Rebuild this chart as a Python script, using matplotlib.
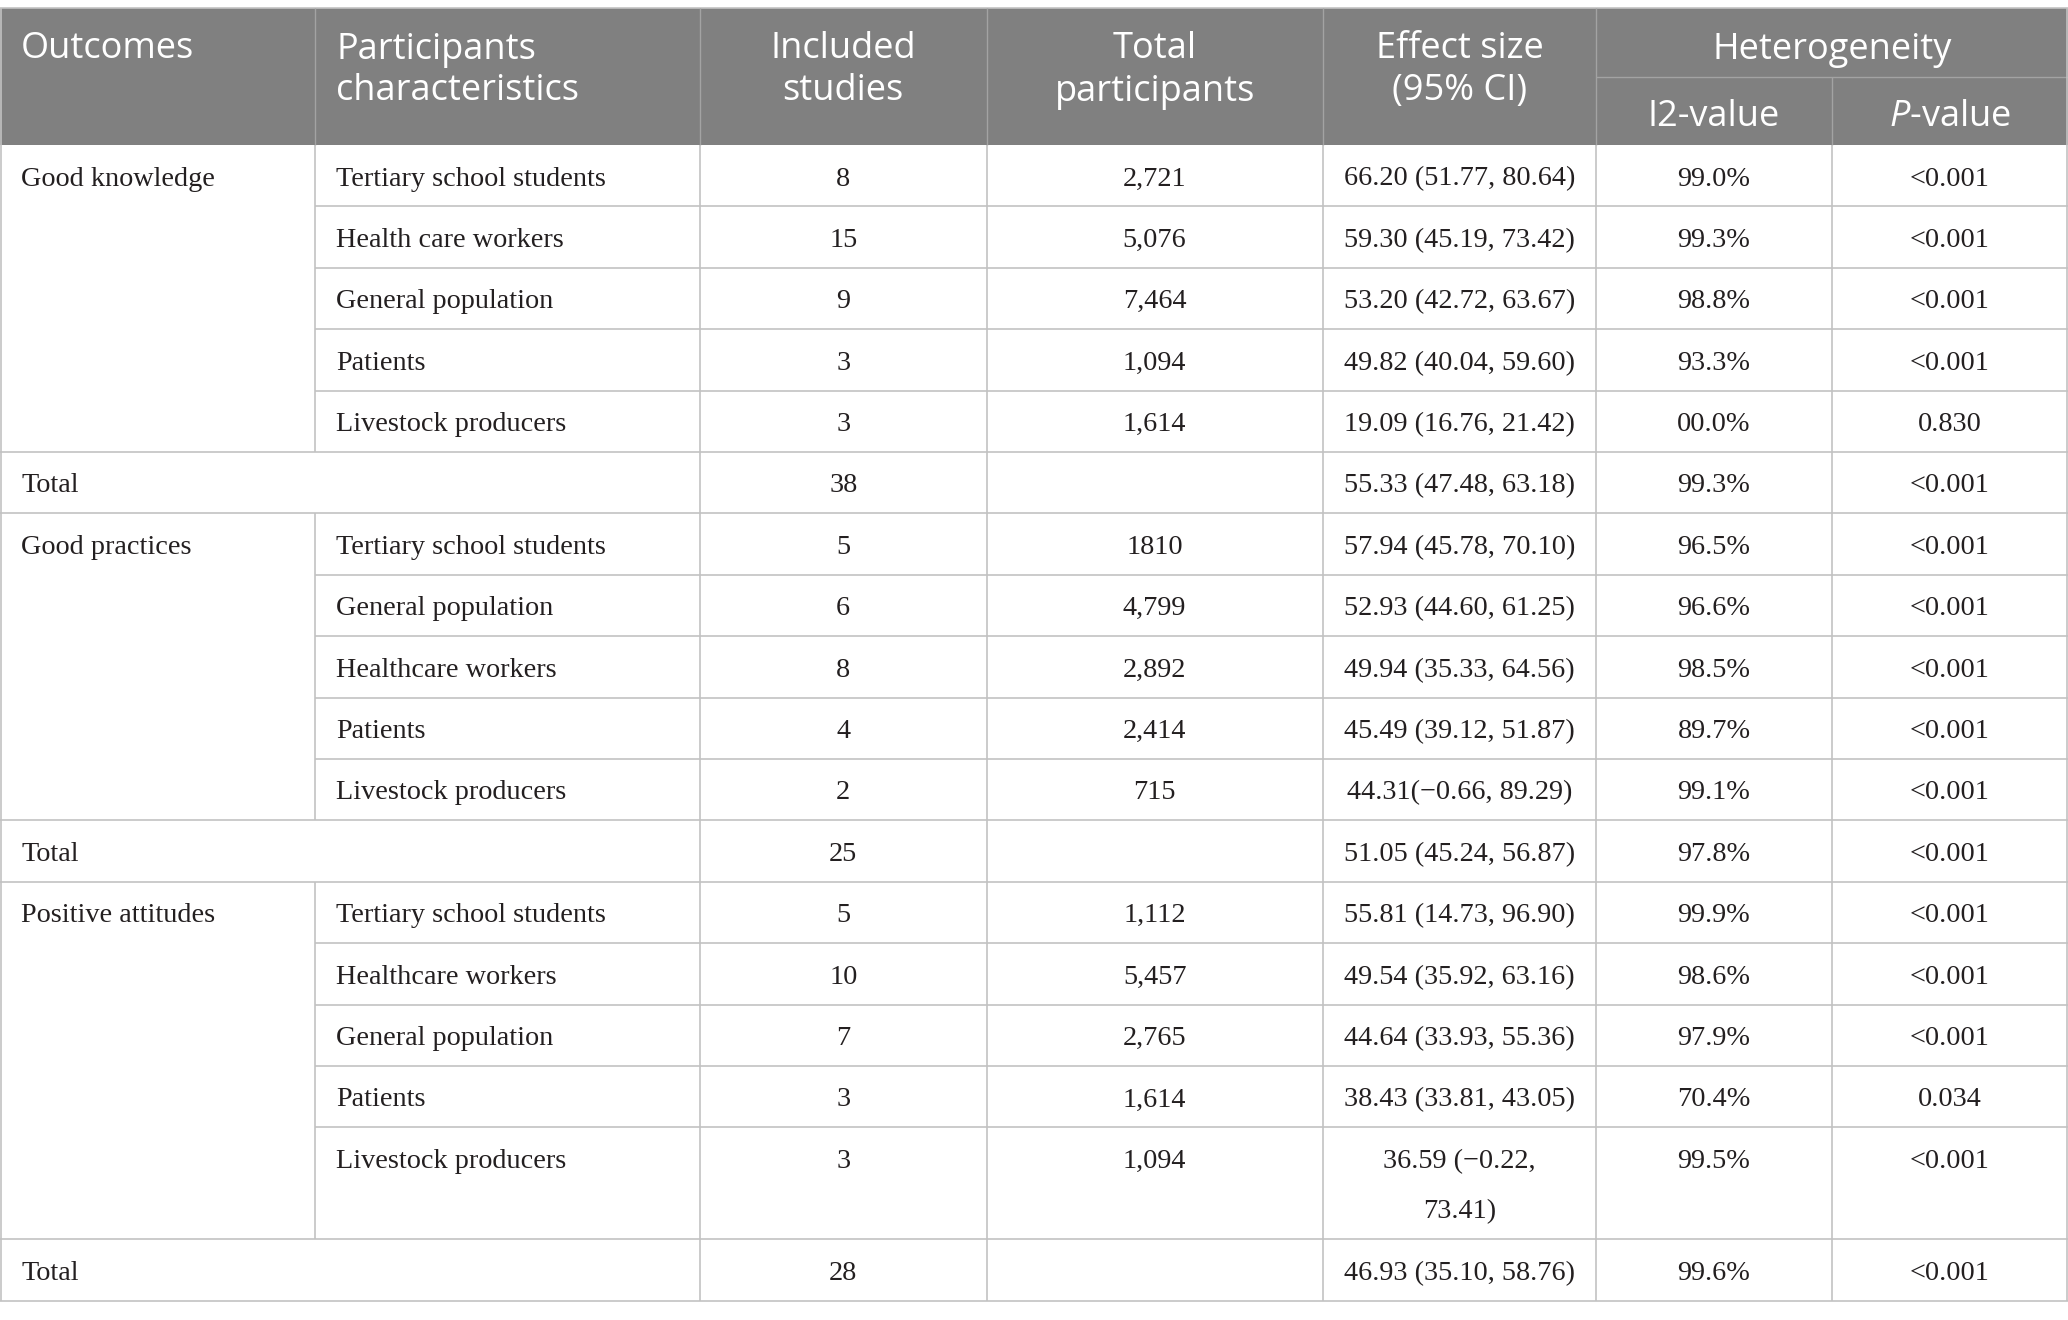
import matplotlib
matplotlib.use("Agg")
import matplotlib.pyplot as plt
from matplotlib.patches import Rectangle

plt.rcParams['mathtext.fontset'] = 'custom'
plt.rcParams['mathtext.rm'] = 'Open Sans'
plt.rcParams['mathtext.it'] = 'Open Sans:italic'

# ---- table content ----
outcomes = ["Good knowledge", "Good practices", "Positive attitudes"]

gk_groups = ["Tertiary school students", "Health care workers", "General population",
             "Patients", "Livestock producers"]
gk_studies = ["8", "15", "9", "3", "3"]
gk_participants = ["2,721", "5,076", "7,464", "1,094", "1,614"]
gk_effect = ["66.20 (51.77, 80.64)", "59.30 (45.19, 73.42)", "53.20 (42.72, 63.67)",
             "49.82 (40.04, 59.60)", "19.09 (16.76, 21.42)"]
gk_i2 = ["99.0%", "99.3%", "98.8%", "93.3%", "00.0%"]
gk_p = ["<0.001", "<0.001", "<0.001", "<0.001", "0.830"]
gk_total = ["38", "", "55.33 (47.48, 63.18)", "99.3%", "<0.001"]

gp_groups = ["Tertiary school students", "General population", "Healthcare workers",
             "Patients", "Livestock producers"]
gp_studies = ["5", "6", "8", "4", "2"]
gp_participants = ["1810", "4,799", "2,892", "2,414", "715"]
gp_effect = ["57.94 (45.78, 70.10)", "52.93 (44.60, 61.25)", "49.94 (35.33, 64.56)",
             "45.49 (39.12, 51.87)", "44.31(\u22120.66, 89.29)"]
gp_i2 = ["96.5%", "96.6%", "98.5%", "89.7%", "99.1%"]
gp_p = ["<0.001", "<0.001", "<0.001", "<0.001", "<0.001"]
gp_total = ["25", "", "51.05 (45.24, 56.87)", "97.8%", "<0.001"]

pa_groups = ["Tertiary school students", "Healthcare workers", "General population",
             "Patients", "Livestock producers"]
pa_studies = ["5", "10", "7", "3", "3"]
pa_participants = ["1,112", "5,457", "2,765", "1,614", "1,094"]
pa_effect = ["55.81 (14.73, 96.90)", "49.54 (35.92, 63.16)", "44.64 (33.93, 55.36)",
             "38.43 (33.81, 43.05)", "36.59 (\u22120.22,\n73.41)"]
pa_i2 = ["99.9%", "98.6%", "97.9%", "70.4%", "99.5%"]
pa_p = ["<0.001", "<0.001", "<0.001", "0.034", "<0.001"]
pa_total = ["28", "", "46.93 (35.10, 58.76)", "99.6%", "<0.001"]

blocks = [
    (gk_groups, gk_studies, gk_participants, gk_effect, gk_i2, gk_p, gk_total),
    (gp_groups, gp_studies, gp_participants, gp_effect, gp_i2, gp_p, gp_total),
    (pa_groups, pa_studies, pa_participants, pa_effect, pa_i2, pa_p, pa_total),
]

# ---- layout (pixels) ----
W, H = 2068, 1320
col_x = [0, 315, 700, 986.5, 1322.8, 1596, 1832, 2068]
header_top, header_mid, header_bot = 8, 77, 145
row_h = 61.4
line_gap = 50.7
base_off = 40.5
pad = 21

header_bg = "#808080"
header_sep = "#a3a3a3"
grid = "#c2c2c2"
ink = "#231f20"
hfont = ['Open Sans', 'DejaVu Sans']
bfont = ['Liberation Serif', 'DejaVu Serif']
hsize = 26
bsize = 20.3

fig = plt.figure(figsize=(W / 100, H / 100), dpi=100)
ax = fig.add_axes([0, 0, 1, 1])
ax.set_xlim(0, W)
ax.set_ylim(H, 0)
ax.axis("off")

# header
ax.add_patch(Rectangle((0, header_top), W, header_bot - header_top, color=header_bg, lw=0))
ax.hlines(header_top, 0, W, color=grid, lw=1.2)
for x in col_x[1:6]:
    ax.vlines(x, header_top, header_bot, color=header_sep, lw=1.0)
ax.vlines(col_x[6], header_mid, header_bot, color=header_sep, lw=1.0)
ax.hlines(header_mid, col_x[5], W, color=header_sep, lw=1.0)

b1, b2, b3 = 58.5, 100.5, 126.5


def htext(x, y, s, ha="center"):
    ax.text(x, y, s, ha=ha, va="baseline", color="white", fontsize=hsize,
            family=hfont)


def cx(i):
    return (col_x[i] + col_x[i + 1]) / 2


htext(col_x[0] + pad, b1, "Outcomes", ha="left")
htext(col_x[1] + pad, b1, "Participants", ha="left")
htext(col_x[1] + pad, b2, "characteristics", ha="left")
htext(cx(2), b1, "Included")
htext(cx(2), b2, "studies")
htext(cx(3), b1, "Total")
htext(cx(3), b2, "participants")
htext(cx(4), b1, "Effect size")
htext(cx(4), b2, "(95% CI)")
htext(col_x[6], b1, "Heterogeneity")
htext(cx(5), b3, "I2-value")
htext(cx(6), b3, r"$\it{P}$-value")


def btext(x, top, s, ha="center"):
    for k, line in enumerate(s.split("\n")):
        ax.text(x, top + base_off + k * line_gap, line, ha=ha, va="baseline",
                color=ink, fontsize=bsize, family=bfont)


# body
y = header_bot
for name, (groups, studies, parts, effect, i2, pv, total) in zip(outcomes, blocks):
    block_top = y
    for i in range(len(groups)):
        cells = [groups[i], studies[i], parts[i], effect[i], i2[i], pv[i]]
        nl = max(c.count("\n") for c in cells) + 1
        h = row_h + (nl - 1) * line_gap
        if i == 0:
            btext(col_x[0] + pad, y, name, ha="left")
        else:
            ax.hlines(y, col_x[1], W, color=grid, lw=1.2)
        btext(col_x[1] + pad, y, groups[i], ha="left")
        for j, c in enumerate(cells[1:]):
            btext(cx(j + 2), y, c)
        y += h
    ax.vlines(col_x[1], block_top, y, color=grid, lw=1.2)
    ax.hlines(y, 0, W, color=grid, lw=1.2)
    btext(col_x[0] + pad, y, "Total", ha="left")
    for j, c in enumerate(total):
        if c:
            btext(cx(j + 2), y, c)
    y += row_h
    ax.hlines(y, 0, W, color=grid, lw=1.2)

for x in col_x[2:7]:
    ax.vlines(x, header_bot, y, color=grid, lw=1.2)
ax.vlines(0.7, header_top, y, color=grid, lw=1.2)
ax.vlines(W - 0.7, header_top, y, color=grid, lw=1.2)

fig.savefig("out.png", dpi=100, facecolor="white")
